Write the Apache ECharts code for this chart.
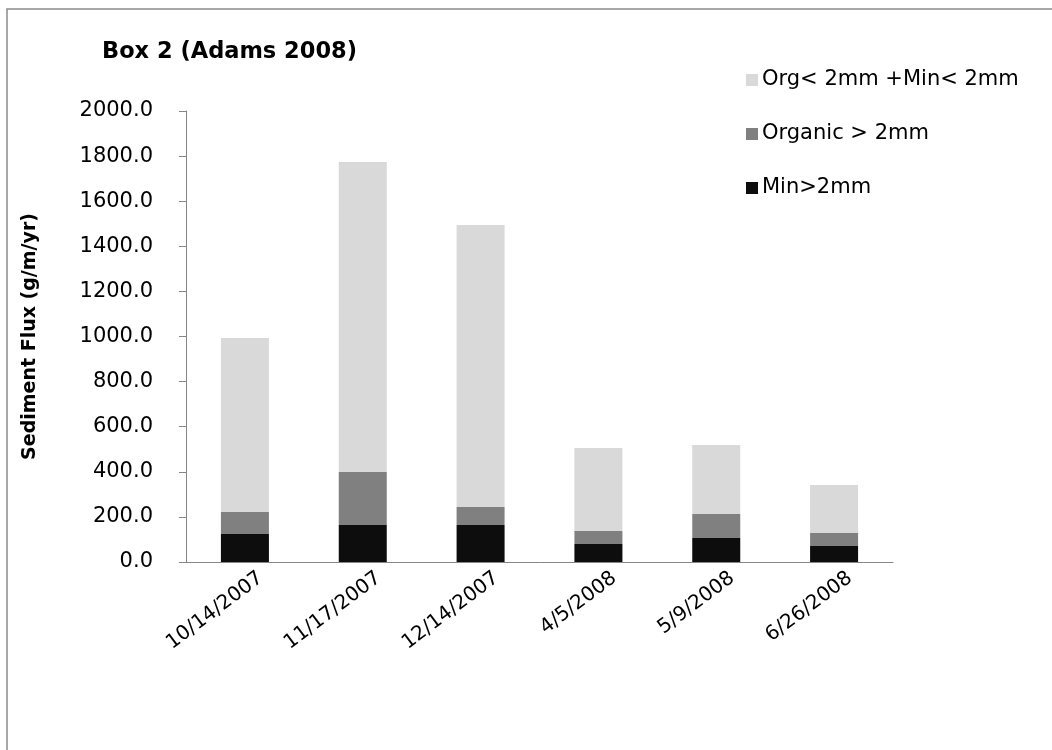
<!DOCTYPE html>
<html>
<head>
<meta charset="utf-8">
<script src="https://cdn.jsdelivr.net/npm/echarts@6/dist/echarts.min.js"></script>
<style>html,body{margin:0;padding:0;background:#fff;}#c{width:1052px;height:750px;}</style>
</head>
<body>
<div id="c"></div>
<script>
var categories = ['10/14/2007', '11/17/2007', '12/14/2007', '4/5/2008', '5/9/2008', '6/26/2008'];
var minCoarse = [124, 164, 164, 80, 106, 71];
var organicCoarse = [98, 235, 80, 57, 107, 58];
var fineTotal = [771, 1375, 1250, 368, 306, 212];
var legendNames = ['Org< 2mm +Min< 2mm', 'Organic > 2mm', 'Min>2mm'];

var FONT = 'DejaVu Sans';
var chart = echarts.init(document.getElementById('c'));
chart.setOption({
  animation: false,
  backgroundColor: '#fff',
  title: {
    text: 'Box 2 (Adams 2008)',
    left: 97, top: 36,
    textStyle: { fontFamily: FONT, fontSize: 22.5, fontWeight: 'bold', color: '#000' }
  },
  legend: {
    orient: 'vertical',
    left: 741, top: 64,
    itemWidth: 12, itemHeight: 12, itemGap: 32,
    icon: 'rect',
    data: legendNames,
    textStyle: { fontFamily: FONT, fontSize: 21, lineHeight: 22, color: '#000', padding: [0, 0, 0, -1] }
  },
  graphic: [{
    type: 'rect', shape: { x: 7, y: 9, width: 1080, height: 780 },
    style: { fill: 'none', stroke: '#8c8c8c', lineWidth: 1.5 }, silent: true
  }],
  grid: { left: 186, right: 159, top: 111, bottom: 188 },
  xAxis: {
    type: 'category',
    data: categories,
    axisLine: { lineStyle: { color: '#868686', width: 1 } },
    axisTick: { alignWithLabel: false, length: 6, lineStyle: { color: '#868686' } },
    axisLabel: { rotate: 37, fontFamily: FONT, fontSize: 20, color: '#000', margin: 26,
      padding: [0, -20, 0, 0] }
  },
  yAxis: {
    type: 'value',
    min: 0, max: 2000, interval: 200,
    name: 'Sediment Flux (g/m/yr)',
    nameLocation: 'middle',
    nameGap: 146,
    nameTextStyle: { fontFamily: FONT, fontSize: 19, fontWeight: 'bold', color: '#000' },
    splitLine: { show: false },
    axisLine: { show: true, lineStyle: { color: '#868686', width: 1 } },
    axisTick: { show: true, length: 7, lineStyle: { color: '#868686' } },
    axisLabel: {
      fontFamily: FONT, fontSize: 21, color: '#000', margin: 33,
      formatter: function (v) { return v.toFixed(1); }
    }
  },
  series: [
    { name: 'Min>2mm', type: 'bar', stack: 's', data: minCoarse, barWidth: 48,
      itemStyle: { color: '#0d0d0d' } },
    { name: 'Organic > 2mm', type: 'bar', stack: 's', data: organicCoarse, barWidth: 48,
      itemStyle: { color: '#808080' } },
    { name: 'Org< 2mm +Min< 2mm', type: 'bar', stack: 's', data: fineTotal, barWidth: 48,
      itemStyle: { color: '#d9d9d9' } }
  ]
});
</script>
</body>
</html>
